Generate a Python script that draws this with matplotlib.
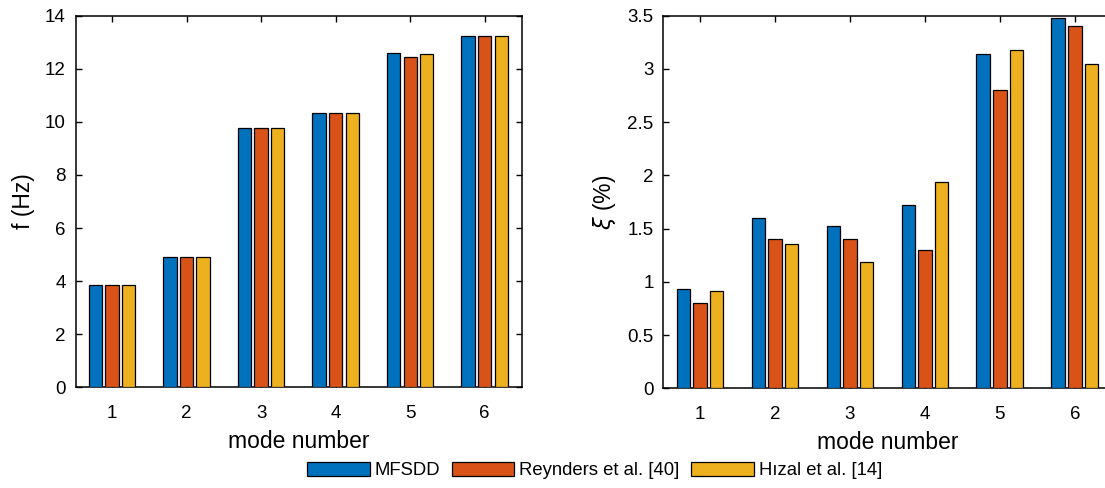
import numpy as np
import matplotlib
matplotlib.use("Agg")
import matplotlib.pyplot as plt

plt.rcParams['font.family'] = ['Liberation Sans', 'DejaVu Sans']

modes = [1, 2, 3, 4, 5, 6]
series = ["MFSDD", "Reynders et al. [40]", "H\u0131zal et al. [14]"]
colors = ["#0072BD", "#D95319", "#EDB120"]

freq_mfsdd = [3.86, 4.90, 9.78, 10.34, 12.58, 13.22]
freq_reynders = [3.86, 4.91, 9.76, 10.32, 12.44, 13.22]
freq_hizal = [3.86, 4.90, 9.78, 10.33, 12.55, 13.22]

damp_mfsdd = [0.936, 1.60, 1.52, 1.72, 3.14, 3.475]
damp_reynders = [0.80, 1.40, 1.40, 1.30, 2.80, 3.40]
damp_hizal = [0.917, 1.36, 1.19, 1.94, 3.18, 3.05]

yticks_f = [0, 2, 4, 6, 8, 10, 12, 14]
yticks_d = [0, 0.5, 1, 1.5, 2, 2.5, 3, 3.5]
ytick_labels_d = ["0", "0.5", "1", "1.5", "2", "2.5", "3", "3.5"]

W, H = 1105, 488
fig = plt.figure(figsize=(W / 100, H / 100), dpi=100)

ax1 = fig.add_axes([76 / W, (H - 387.3) / H, 446 / W, (387.3 - 15.7) / H])
ax2 = fig.add_axes([663.3 / W, (H - 388.3) / H, 449 / W, (388.3 - 15.7) / H])

pitch = 0.222
bw = 0.18
x = np.array(modes, dtype=float)

def draw(ax, data, yt, ytl, ylim, xlim, ylabel, ypad):
    handles = []
    for i, (vals, c, lab) in enumerate(zip(data, colors, series)):
        h = ax.bar(x + (i - 1) * pitch, vals, width=bw, color=c,
                   edgecolor="black", linewidth=0.9, label=lab, zorder=3)
        handles.append(h)
    ax.set_xlim(*xlim)
    ax.set_ylim(*ylim)
    ax.set_xticks(modes)
    ax.set_xticklabels([str(m) for m in modes])
    ax.set_yticks(yt)
    ax.set_yticklabels(ytl)
    ax.tick_params(direction="in", length=4.5, width=1.0, top=True, right=True,
                   labelsize=13.5, colors="black")
    ax.tick_params(axis="x", pad=12.5)
    ax.tick_params(axis="y", pad=ypad)
    for s in ax.spines.values():
        s.set_linewidth(1.1)
    ax.set_xlabel("mode number", fontsize=16.5, labelpad=6)
    ax.set_ylabel(ylabel, fontsize=16.5, labelpad=7)
    return handles

hs = draw(ax1, [freq_mfsdd, freq_reynders, freq_hizal], yticks_f,
          [str(v) for v in yticks_f], (0, 14), (0.515, 6.5), "f (Hz)", 7.5)
draw(ax2, [damp_mfsdd, damp_reynders, damp_hizal], yticks_d,
     ytick_labels_d, (0, 3.5), (0.51, 6.5), r"$\xi$ (%)", 7.0)

fig.legend(handles=hs, labels=series, loc="center left",
           bbox_to_anchor=(307 / W, (H - 470.5) / H),
           ncol=3, frameon=False, fontsize=13.3, handlelength=3.4, handleheight=0.8,
           handletextpad=0.27, columnspacing=0.6, borderaxespad=0, borderpad=0)

fig.savefig("out.png", dpi=100)
